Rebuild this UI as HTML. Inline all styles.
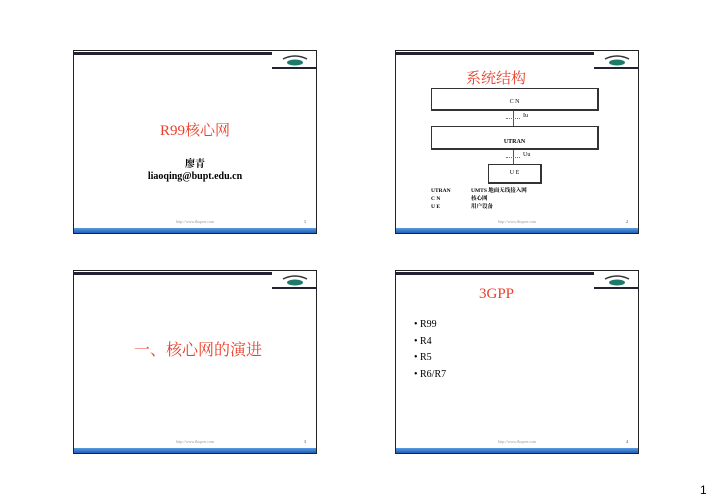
<!DOCTYPE html>
<html><head><meta charset="utf-8"><style>
body{margin:0;width:713px;height:504px;background:#fff;position:relative;overflow:hidden;font-family:"Liberation Serif","Noto Serif CJK SC",serif}
.s{position:absolute;width:244px;height:184px;border:1px solid #222;box-sizing:border-box;background:#fff}
.tl{position:absolute;left:0;top:1px;width:198px;height:3px;border-top:1px solid #223;border-bottom:2px solid #223;box-sizing:border-box}
.ul{position:absolute;right:0;top:16px;width:44px;height:2px;background:#223}
.logo{position:absolute;right:6px;top:3px;width:30px;height:12px}
.bb{position:absolute;left:0;right:0;bottom:0;height:5px;background:linear-gradient(#5a9be0,#1f5fb8)}
.ft{position:absolute;bottom:9px;left:0;right:0;text-align:center;font-size:4px;color:#999}
.pn{position:absolute;bottom:9px;right:10px;font-size:4px;color:#333}
.a{position:absolute;white-space:nowrap}
.red{color:#e8402a}
.box{position:absolute;border:1px solid #333;border-right:2px solid #333;border-bottom:2px solid #333;box-sizing:border-box;font-size:6px;text-align:center}
</style></head><body>
<!-- slide 1 -->
<div class="s" style="left:73px;top:50px">
<div class="tl"></div><div class="ul"></div>
<svg class="logo" viewBox="0 0 30 12"><path d="M3 5 Q15 -1 27 5" stroke="#333" stroke-width="1.5" fill="none"/><ellipse cx="15" cy="8.5" rx="8" ry="3" fill="#1e7a6a"/></svg>
<div class="a red" style="left:0;right:0;text-align:center;top:68px;font-size:15px">R99核心网</div>
<div class="a" style="left:0;right:0;text-align:center;top:104px;font-size:10px;font-weight:bold">廖青</div>
<div class="a" style="left:0;right:0;text-align:center;top:120px;font-size:10px;font-weight:bold">liaoqing@bupt.edu.cn</div>
<div class="ft">http://www.fhopen.com</div><div class="pn">1</div><div class="bb"></div>
</div>
<!-- slide 2 -->
<div class="s" style="left:395px;top:50px">
<div class="tl"></div><div class="ul"></div>
<svg class="logo" viewBox="0 0 30 12"><path d="M3 5 Q15 -1 27 5" stroke="#333" stroke-width="1.5" fill="none"/><ellipse cx="15" cy="8.5" rx="8" ry="3" fill="#1e7a6a"/></svg>
<div class="a red" style="left:70px;top:16px;font-size:15px">系统结构</div>
<div class="box" style="left:35px;top:37px;width:168px;height:23px;line-height:18px;padding-top:4px">C N</div>
<div class="a" style="left:117px;top:60px;width:1px;height:15px;background:#555"></div>
<div class="a" style="left:110px;top:67px;width:14px;border-top:1px dotted #777"></div>
<div class="a" style="left:127px;top:62px;font-size:6px">Iu</div>
<div class="box" style="left:35px;top:75px;width:168px;height:24px;line-height:30px;font-weight:bold">UTRAN</div>
<div class="a" style="left:117px;top:99px;width:1px;height:15px;background:#555"></div>
<div class="a" style="left:110px;top:106px;width:14px;border-top:1px dotted #777"></div>
<div class="a" style="left:127px;top:101px;font-size:6px">Uu</div>
<div class="box" style="left:92px;top:113px;width:54px;height:20px;line-height:17px">U E</div>
<div class="a" style="left:35px;top:136px;font-size:5.5px;line-height:8px;font-weight:bold">UTRAN<br>C N<br>U E</div>
<div class="a" style="left:75px;top:136px;font-size:5.5px;line-height:8px;font-weight:bold">UMTS 地面无线接入网<br>核心网<br>用户设备</div>
<div class="ft">http://www.fhopen.com</div><div class="pn">2</div><div class="bb"></div>
</div>
<!-- slide 3 -->
<div class="s" style="left:73px;top:270px">
<div class="tl"></div><div class="ul"></div>
<svg class="logo" viewBox="0 0 30 12"><path d="M3 5 Q15 -1 27 5" stroke="#333" stroke-width="1.5" fill="none"/><ellipse cx="15" cy="8.5" rx="8" ry="3" fill="#1e7a6a"/></svg>
<div class="a red" style="left:60px;top:66px;font-size:16px">一、核心网的演进</div>
<div class="ft">http://www.fhopen.com</div><div class="pn">3</div><div class="bb"></div>
</div>
<!-- slide 4 -->
<div class="s" style="left:395px;top:270px">
<div class="tl"></div><div class="ul"></div>
<svg class="logo" viewBox="0 0 30 12"><path d="M3 5 Q15 -1 27 5" stroke="#333" stroke-width="1.5" fill="none"/><ellipse cx="15" cy="8.5" rx="8" ry="3" fill="#1e7a6a"/></svg>
<div class="a red" style="left:83px;top:15px;font-size:15px">3GPP</div>
<div class="a" style="left:18px;top:46px;font-size:10px;line-height:16.5px">• R99<br>• R4<br>• R5<br>• R6/R7</div>
<div class="ft">http://www.fhopen.com</div><div class="pn">4</div><div class="bb"></div>
</div>
<div class="a" style="left:700px;top:483px;font-size:12px;font-family:'Liberation Sans',sans-serif">1</div>
</body></html>
